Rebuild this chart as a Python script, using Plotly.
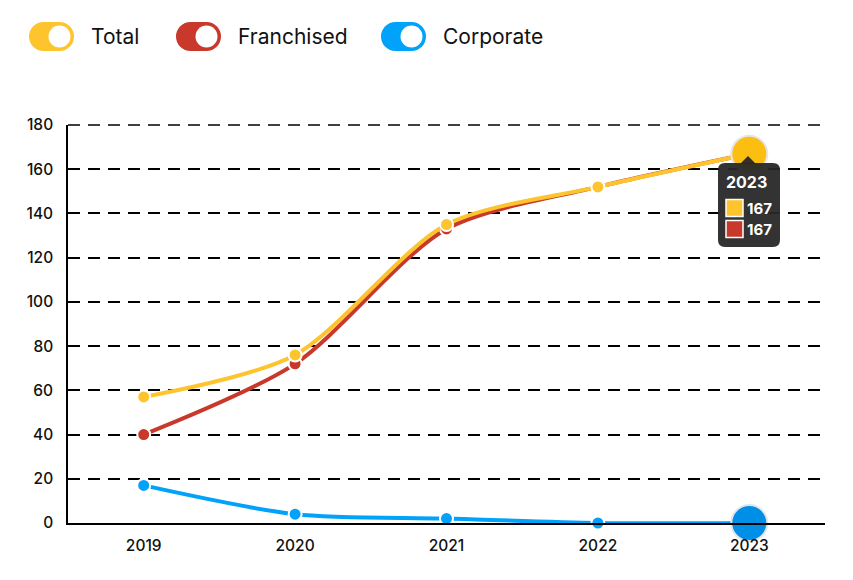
import plotly.graph_objects as go

years = ["2019", "2020", "2021", "2022", "2023"]
total = [57, 76, 135, 152, 167]
franchised = [40, 72, 133, 152, 167]
corporate = [17, 4, 2, 0, 0]
y_ticks = [0, 20, 40, 60, 80, 100, 120, 140, 160, 180]
series_names = ["Total", "Franchised", "Corporate"]
colors = ["#FEC42D", "#C8392B", "#00A2FA"]

W, H = 853, 580
L, R, T, B = 68, 825, 125, 523


def X(px):
    return (px - L) / (R - L)


def Y(py):
    return (B - py) / (B - T)


fig = go.Figure()
for name, vals, c in [("Franchised", franchised, colors[1]), ("Total", total, colors[0]), ("Corporate", corporate, colors[2])]:
    fig.add_trace(go.Scatter(
        x=years, y=vals, name=name, mode="lines+markers",
        line=dict(color=c, width=4, shape="spline", smoothing=0.8),
        marker=dict(size=13, color=c, line=dict(color="white", width=2)),
        showlegend=False, hoverinfo="skip", cliponaxis=False,
    ))

# hover-state enlarged markers at last point
fig.add_trace(go.Scatter(x=[years[-1]], y=[total[-1]], mode="markers", showlegend=False, hoverinfo="skip",
                         cliponaxis=False,
                         marker=dict(size=36, color="#FDBE12", line=dict(color="#E6E6E6", width=2))))
fig.add_trace(go.Scatter(x=[years[-1]], y=[corporate[-1]], mode="markers", showlegend=False, hoverinfo="skip",
                         cliponaxis=False,
                         marker=dict(size=36, color="#008FE6", line=dict(color="#E6E6E6", width=2))))

shapes = []
annotations = []

# top gridline (at range edge)
shapes.append(dict(type="line", xref="paper", yref="paper", x0=0, x1=1, y0=1, y1=1,
                   line=dict(color="black", width=1.5, dash="12px,8px"), layer="below"))


def circle(cx, cy, r, color):
    shapes.append(dict(type="circle", xref="paper", yref="paper",
                       x0=X(cx - r), x1=X(cx + r), y0=Y(cy + r), y1=Y(cy - r),
                       fillcolor=color, line=dict(width=0), layer="above"))


def rect(x0, y0, x1, y1, color):
    shapes.append(dict(type="rect", xref="paper", yref="paper",
                       x0=X(x0), x1=X(x1), y0=Y(y1), y1=Y(y0),
                       fillcolor=color, line=dict(width=0), layer="above"))


# legend toggles
legend_pos = [(29, 89), (176, 236), (381, 441)]
for (tx, lx), name, c in zip(legend_pos, series_names, colors):
    cy = 36.5
    r = 14.5
    circle(tx + r, cy, r, c)
    circle(tx + 45 - r, cy, r, c)
    rect(tx + r, cy - r, tx + 45 - r, cy + r, c)
    circle(tx + 45 - r, cy, 11, "white")
    annotations.append(dict(xref="paper", yref="paper", x=X(lx), y=Y(cy), text=name,
                            showarrow=False, xanchor="left", yanchor="middle",
                            font=dict(family="Inter", size=21, color="#111111")))


# tooltip
def rrect_path(x0, y0, x1, y1, r):
    pts = [
        f"M{X(x0 + r)},{Y(y0)}", f"L{X(x1 - r)},{Y(y0)}", f"Q{X(x1)},{Y(y0)} {X(x1)},{Y(y0 + r)}",
        f"L{X(x1)},{Y(y1 - r)}", f"Q{X(x1)},{Y(y1)} {X(x1 - r)},{Y(y1)}",
        f"L{X(x0 + r)},{Y(y1)}", f"Q{X(x0)},{Y(y1)} {X(x0)},{Y(y1 - r)}",
        f"L{X(x0)},{Y(y0 + r)}", f"Q{X(x0)},{Y(y0)} {X(x0 + r)},{Y(y0)}", "Z",
    ]
    return " ".join(pts)


tip_color = "rgba(40,40,40,0.95)"
shapes.append(dict(type="path", xref="paper", yref="paper", path=rrect_path(718, 163, 780, 247, 7),
                   fillcolor=tip_color, line=dict(width=0), layer="above"))
shapes.append(dict(type="path", xref="paper", yref="paper",
                   path=f"M{X(740)},{Y(164)} L{X(748)},{Y(156)} L{X(756)},{Y(164)} Z",
                   fillcolor=tip_color, line=dict(width=0), layer="above"))
annotations.append(dict(xref="paper", yref="paper", x=X(746), y=Y(182), text="<b>" + years[-1] + "</b>",
                        showarrow=False, xanchor="center", yanchor="middle",
                        font=dict(family="Inter", size=16, color="white")))
for i, (vals, c) in enumerate([(total, colors[0]), (franchised, colors[1])]):
    cy = 208 + i * 21
    shapes.append(dict(type="rect", xref="paper", yref="paper",
                       x0=X(726), x1=X(743), y0=Y(cy + 8.5), y1=Y(cy - 8.5),
                       fillcolor=c, line=dict(color="white", width=1.5), layer="above"))
    annotations.append(dict(xref="paper", yref="paper", x=X(745), y=Y(cy), text="<b>%d</b>" % vals[-1],
                            showarrow=False, xanchor="left", yanchor="middle",
                            font=dict(family="Inter", size=15, color="white")))

fig.update_layout(
    width=W, height=H,
    margin=dict(l=L, r=W - R, t=T, b=H - B, pad=0),
    paper_bgcolor="white", plot_bgcolor="white",
    shapes=shapes, annotations=annotations,
    showlegend=False,
    font=dict(family="Inter", color="#111111"),
    xaxis=dict(type="category", range=[-0.5, 4.5], showgrid=False, showline=True,
               linecolor="black", linewidth=1.5, ticks="", tickfont=dict(size=15.5, weight=500),
               ticklabelstandoff=8, fixedrange=True),
    yaxis=dict(range=[0, 180], tickvals=y_ticks, showgrid=True, gridcolor="black", gridwidth=1.5,
               griddash="12px,8px", zeroline=False, showline=True, linecolor="black", linewidth=1.5,
               ticks="", tickfont=dict(size=15.5, weight=500), ticklabelstandoff=10, fixedrange=True),
    hovermode=False,
)

fig.write_html("out.html")
